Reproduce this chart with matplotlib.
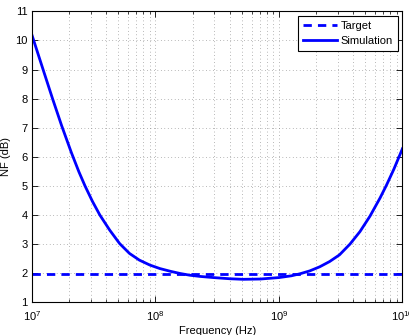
import matplotlib
matplotlib.use("Agg")
import matplotlib.pyplot as plt
import numpy as np
from matplotlib.ticker import LogLocator, NullFormatter

plt.rcParams['font.family'] = ['Liberation Sans', 'DejaVu Sans']

# frequency as log10(Hz)
freq_log10 = [7.00, 7.016, 7.092, 7.167, 7.24, 7.32, 7.38, 7.43, 7.49, 7.55,
              7.63, 7.71, 7.79, 7.87, 7.955, 8.036, 8.117, 8.20, 8.28, 8.36,
              8.47, 8.60, 8.71, 8.85, 9.00, 9.10, 9.17, 9.25, 9.33, 9.41,
              9.49, 9.575, 9.656, 9.737, 9.818, 9.87, 9.93, 10.0]
nf_sim = [10.19, 9.98, 8.98, 8.0, 7.08, 6.14, 5.49, 5.0, 4.47, 4.0,
          3.48, 3.02, 2.68, 2.45, 2.28, 2.16, 2.07, 1.99, 1.93, 1.89,
          1.85, 1.81, 1.79, 1.80, 1.85, 1.91, 1.98, 2.08, 2.22, 2.40,
          2.63, 3.0, 3.43, 3.96, 4.58, 5.02, 5.57, 6.28]
target_freq = [1.0e7, 1.0e10]
target_nf = [1.956, 1.956]

freq_hz = np.power(10.0, freq_log10)

fig = plt.figure(figsize=(4.09, 3.35), dpi=100)
ax = fig.add_axes([0.078, 0.0976, 0.906, 0.8686])

ax.plot(target_freq, target_nf, color=(0, 0, 1), lw=2.0, ls=(0, (3, 2.2)), label='Target')
ax.plot(freq_hz, nf_sim, color=(0, 0, 1), lw=2.0, label='Simulation')

ax.set_xscale('log')
ax.set_xlim(1e7, 1e10)
ax.set_ylim(1, 11)
ax.set_yticks(range(1, 12))
ax.xaxis.set_minor_locator(LogLocator(base=10, subs=range(2, 10), numticks=20))
ax.xaxis.set_minor_formatter(NullFormatter())

ax.grid(True, which='major', ls=(0, (1, 4)), color='#777777', lw=0.5)
ax.grid(True, which='minor', axis='x', ls=(0, (1, 4)), color='#777777', lw=0.5)

ax.tick_params(which='both', direction='in', top=True, right=True, labelsize=8, colors='black')
ax.tick_params(which='major', length=4, width=0.6)
ax.tick_params(which='minor', length=2, width=0.5)
ax.tick_params(axis='x', pad=5)
ax.tick_params(axis='y', pad=3)
for s in ax.spines.values():
    s.set_linewidth(0.8)
    s.set_color('black')

ax.set_xlabel('Frequency (Hz)', fontsize=8, labelpad=2)
ax.set_ylabel('NF (dB)', fontsize=8, labelpad=3)

leg = ax.legend(loc='upper right', fontsize=8, frameon=True, fancybox=False,
                edgecolor='black', framealpha=1, handlelength=3.1,
                borderpad=0.45, labelspacing=0.45, handletextpad=0.3,
                borderaxespad=0.4)
leg.get_frame().set_linewidth(0.8)

fig.savefig('out.png', dpi=100)
